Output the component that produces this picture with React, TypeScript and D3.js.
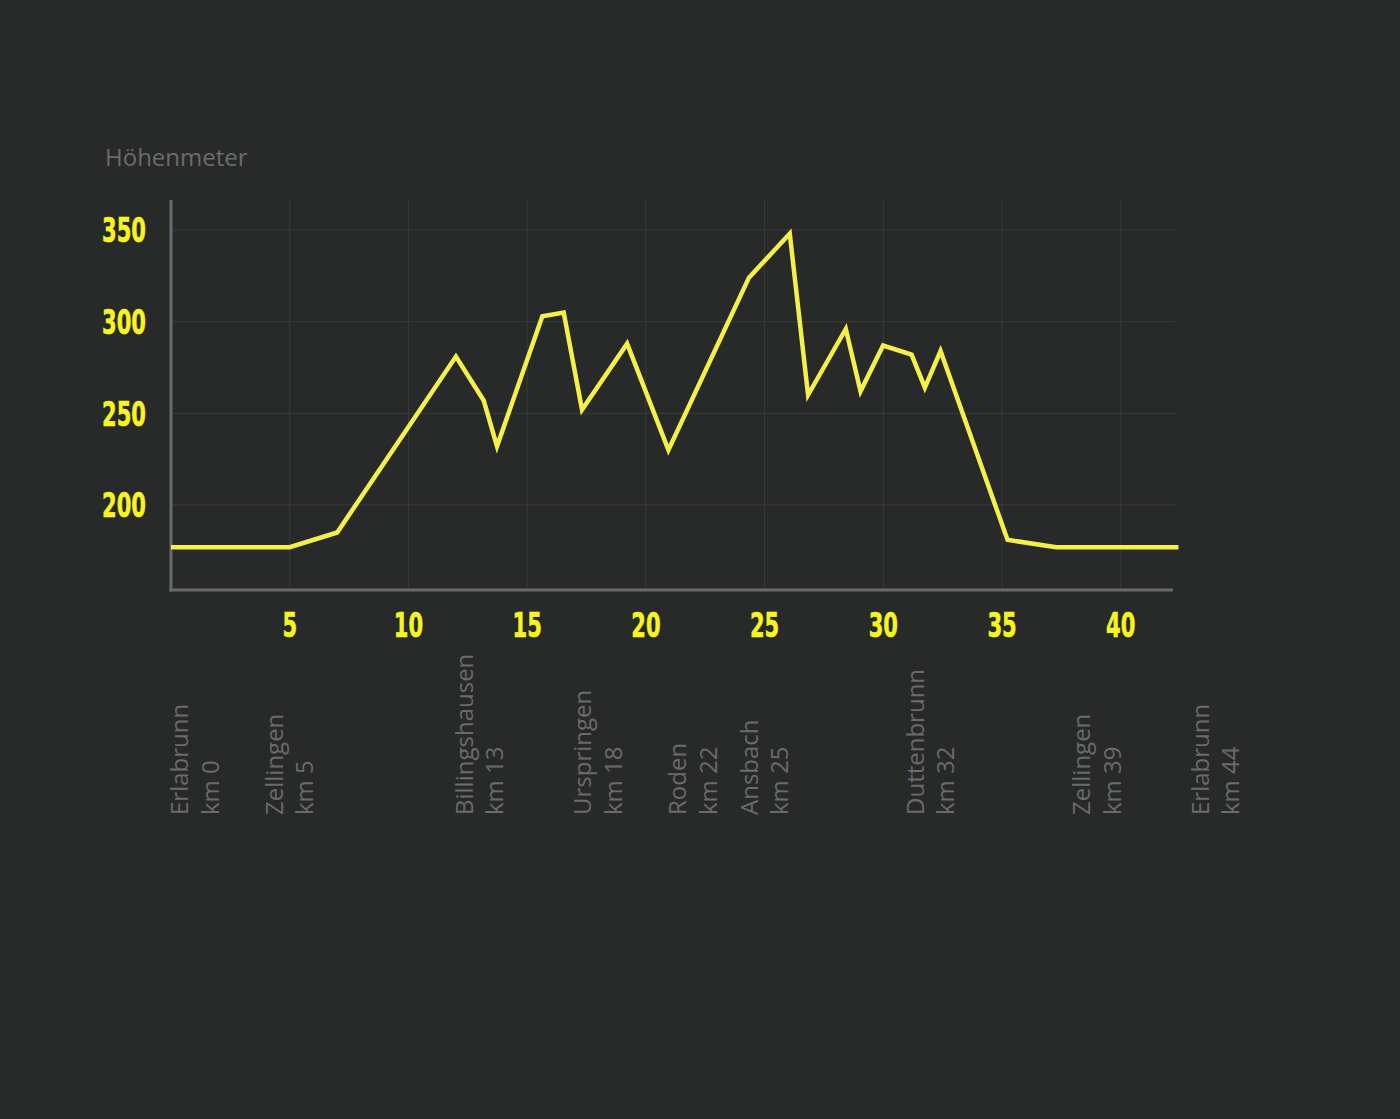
import React from "react";
import * as d3 from "d3";

const kmValues = [0, 5, 7, 12, 13.17, 13.73, 15.64, 16.54, 17.31, 19.21, 20.95, 24.34, 26.06, 26.83, 28.42, 29.04, 29.99, 31.19, 31.75, 32.41, 35.23, 37.28, 42.43];
const elevation = [177, 177, 185, 281, 257, 232, 303, 305, 252, 288, 230, 324, 348, 260, 296, 262, 287, 282, 264, 284, 181, 177, 177];
const xTicks = [5, 10, 15, 20, 25, 30, 35, 40];
const yTicks = [200, 250, 300, 350];
const placeNames = ["Erlabrunn", "Zellingen", "Billingshausen", "Urspringen", "Roden", "Ansbach", "Duttenbrunn", "Zellingen", "Erlabrunn"];
const placeKm = [0, 5, 13, 18, 22, 25, 32, 39, 44];
const yTitle = "Höhenmeter";

const W = 1400;
const H = 1119;
const BG = "#282929";
const GRID = "#3a3b3b";
const AXIS = "#6a6a6a";
const TICK = "#f7f420";
const LINE = "#f5ef4a";
const LABEL = "#6b6b6b";

export default function App() {
  const plotLeft = 171;
  const plotRight = 1173;
  const plotTop = 200;
  const plotBottom = 590;

  const x = d3.scaleLinear().domain([0, 42.2]).range([plotLeft, plotRight]);
  const y = d3.scaleLinear().domain([200, 350]).range([505, 230]);

  const pts = kmValues.map((k, i) => [k, elevation[i]] as [number, number]);
  const line = d3
    .line<[number, number]>()
    .x((d) => x(d[0]))
    .y((d) => y(d[1]))
    .curve(d3.curveLinear);

  const tickFont = "'DejaVu Sans', sans-serif";
  const textFont = "'Open Sans', sans-serif";
  const squeeze = 0.62;

  return (
    <svg
      width={W}
      height={H}
      style={{ position: "absolute", left: 0, top: 0, display: "block" }}
    >
      <rect x={0} y={0} width={W} height={H} fill={BG} />

      {/* grid */}
      {yTicks.map((t) => (
        <line key={"gy" + t} x1={plotLeft} x2={plotRight + 2} y1={y(t)} y2={y(t)} stroke={GRID} strokeWidth={1} />
      ))}
      {xTicks.map((t) => (
        <line key={"gx" + t} x1={x(t)} x2={x(t)} y1={plotTop} y2={plotBottom} stroke={GRID} strokeWidth={1} />
      ))}

      {/* axes */}
      <line x1={plotLeft} x2={plotLeft} y1={plotTop} y2={plotBottom + 1.5} stroke={AXIS} strokeWidth={3} />
      <line x1={plotLeft - 1.5} x2={plotRight} y1={plotBottom} y2={plotBottom} stroke={AXIS} strokeWidth={3} />

      {/* y tick labels */}
      {yTicks.map((t) => (
        <text
          key={"ty" + t}
          transform={`translate(146,${y(t)}) scale(${squeeze},1)`}
          dy="0.36em"
          textAnchor="end"
          fill={TICK}
          stroke={TICK}
          strokeWidth={0.6}
          fontFamily={tickFont}
          fontWeight="bold"
          fontSize={34}
        >
          {t}
        </text>
      ))}

      {/* x tick labels */}
      {xTicks.map((t) => (
        <text
          key={"tx" + t}
          transform={`translate(${x(t)},625) scale(${squeeze},1)`}
          dy="0.36em"
          textAnchor="middle"
          fill={TICK}
          stroke={TICK}
          strokeWidth={0.6}
          fontFamily={tickFont}
          fontWeight="bold"
          fontSize={34}
        >
          {t}
        </text>
      ))}

      {/* title */}
      <text x={105} y={166} fill={LABEL} fontFamily={textFont} fontSize={24}>
        {yTitle}
      </text>

      {/* profile line */}
      <path d={line(pts) || ""} fill="none" stroke={LINE} strokeWidth={4.5} strokeLinejoin="miter" />

      {/* place labels */}
      {placeNames.map((name, i) => {
        const base = Math.max(x(placeKm[i]) - 7, plotLeft + 17);
        return (
          <text
            key={"pl" + i}
            transform={`translate(${base},815) rotate(-90)`}
            fill={LABEL}
            fontFamily={textFont}
            fontSize={24}
          >
            <tspan x={0} y={0}>{name}</tspan>
            <tspan x={0} y={30.5}>{"km " + placeKm[i]}</tspan>
          </text>
        );
      })}
    </svg>
  );
}
